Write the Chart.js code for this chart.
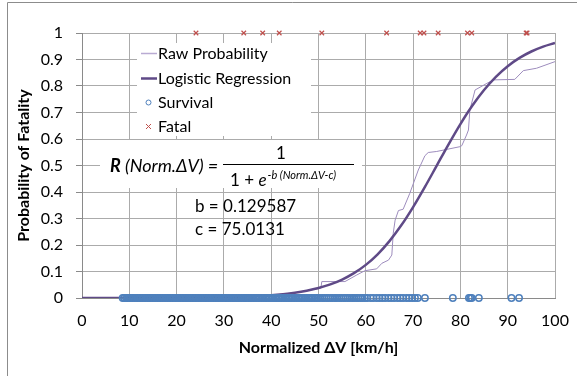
<!DOCTYPE html>
<html>
<head>
<meta charset="utf-8">
<script src="https://cdn.jsdelivr.net/npm/chart.js@4.4.1/dist/chart.umd.min.js"></script>
<style>
  body { margin: 0; background: #fff; }
  #wrap { width: 577px; height: 376px; position: relative; }
</style>
</head>
<body>
<div id="wrap"><canvas id="fatalityChart" width="577" height="376"></canvas></div>
<script>
// Raw probability (moving estimate)
var rawX = [40, 45, 50.5, 50.7, 55.6, 58.1, 59.8, 62.3, 63.4, 64.8, 65.5, 65.8, 66.2, 66.9, 67.9, 69.3, 71.1, 72.5, 73.2, 75, 79.9, 80.3, 81.3, 81.7, 82, 83.1, 85.6, 87, 91.5, 93.3, 96.1, 100];
var rawY = [0.010, 0.020, 0.037, 0.062, 0.062, 0.087, 0.103, 0.110, 0.131, 0.143, 0.162, 0.244, 0.294, 0.330, 0.335, 0.395, 0.483, 0.537, 0.549, 0.553, 0.571, 0.575, 0.615, 0.634, 0.709, 0.785, 0.810, 0.823, 0.825, 0.858, 0.867, 0.892];

// Logistic regression curve
var fitX = [0, 10, 20, 30, 35, 40, 42.5, 45, 47.5, 50, 52.5, 55, 57.5, 60, 62.5, 65, 67.5, 70, 72.5, 75, 77.5, 80, 82.5, 85, 87.5, 90, 92.5, 95, 97.5, 100];
var fitY = [0.0001, 0.0002, 0.0008, 0.0029, 0.0056, 0.0106, 0.0146, 0.0200, 0.0275, 0.0376, 0.0513, 0.0696, 0.0937, 0.1250, 0.1650, 0.2146, 0.2742, 0.3431, 0.4193, 0.4996, 0.5799, 0.6562, 0.7252, 0.7849, 0.8345, 0.8746, 0.9060, 0.9302, 0.9486, 0.9623];

// Survival cases (all at 0)
var survivalX = [8.6, 8.9, 9.3, 9.6, 10.0, 10.3, 10.7, 11.0, 11.4, 11.7, 12.1, 12.4, 12.8, 13.1, 13.5, 13.8, 14.2, 14.5, 14.9, 15.2,
  15.6, 15.9, 16.3, 16.6, 17.0, 17.3, 17.7, 18.0, 18.4, 18.7, 19.1, 19.4, 19.8, 20.1, 20.5, 20.8, 21.2, 21.5, 21.9, 22.2,
  22.6, 22.9, 23.3, 23.6, 24.0, 24.3, 24.7, 25.0, 25.4, 25.7, 26.1, 26.4, 26.8, 27.1, 27.5, 27.8, 28.2, 28.5, 28.9, 29.2,
  29.6, 29.9, 30.3, 30.6, 31.0, 31.3, 31.7, 32.0, 32.4, 32.7, 33.1, 33.4, 33.8, 34.1, 34.5, 34.8, 35.2, 35.5, 35.9, 36.2,
  36.6, 36.9, 37.3, 37.6, 38.0, 38.3, 38.7, 39.0, 39.4, 39.7, 40.1, 40.4, 40.8, 41.1, 41.5, 41.8, 42.2, 42.5, 42.9, 43.2,
  43.6, 43.9, 44.3, 44.6, 45.0, 45.3, 45.7, 46.0, 46.4, 46.7, 47.1, 47.4, 47.8, 48.1, 48.5, 48.8, 49.2, 49.5, 49.9,
  50.3, 50.8, 51.2, 51.7, 52.1, 52.6, 53.0, 53.5, 53.9, 54.4, 54.8, 55.3, 55.7, 56.2, 56.6, 57.1, 57.5, 58.0, 58.4, 58.9,
  59.3, 59.8, 60.3, 61.0, 61.6, 62.3, 62.9, 63.5, 64.1, 64.8, 65.4, 66.0, 66.7, 67.3, 67.9, 68.6, 69.2, 69.8, 70.4, 71.0,
  72.5, 78.4, 81.8, 82.1, 82.4, 83.9, 90.8, 92.4];

// Fatal cases (all at 1)
var fatalX = [24.1, 34.2, 38.2, 41.7, 50.7, 64.4, 71.5, 72.3, 75.3, 81.5, 82.4, 93.9, 94.1];

var xTicks = [0, 100, 10];
var yTicks = [0, 1, 0.1];

var colors = {
  raw: '#9d8cbd',
  rawLegend: '#b9abd3',
  fit: '#5f4a87',
  survival: '#4f81bd',
  fatal: '#c0504d',
  grid: '#ababab',
  axis: '#8a8a8a'
};

function pairs(xs, ys) {
  var out = [];
  for (var i = 0; i < xs.length; i++) out.push({ x: xs[i], y: ys[i] });
  return out;
}
function constPairs(xs, v) {
  var out = [];
  for (var i = 0; i < xs.length; i++) out.push({ x: xs[i], y: v });
  return out;
}

Chart.defaults.font.family = 'Lato, "Open Sans", sans-serif';
Chart.defaults.color = '#000';

// white boxes, legend and formula drawn on top of the grid
var overlay = {
  id: 'overlay',
  beforeDatasetsDraw: function(chart) {
    var ctx = chart.ctx;
    ctx.save();
    ctx.fillStyle = '#fff';
    ctx.fillRect(137, 43, 174, 93);
    ctx.fillRect(100, 140, 262, 48);

    // legend
    ctx.textBaseline = 'middle';
    ctx.textAlign = 'left';
    ctx.font = '16px Lato';
    ctx.fillStyle = '#000';
    ctx.strokeStyle = colors.rawLegend;
    ctx.lineWidth = 1.5;
    ctx.beginPath(); ctx.moveTo(141, 53.5); ctx.lineTo(157, 53.5); ctx.stroke();
    ctx.fillText('Raw Probability', 158, 54);
    ctx.strokeStyle = colors.fit;
    ctx.lineWidth = 2.5;
    ctx.beginPath(); ctx.moveTo(141, 78.5); ctx.lineTo(157, 78.5); ctx.stroke();
    ctx.fillText('Logistic Regression', 158, 79);
    ctx.strokeStyle = colors.survival;
    ctx.lineWidth = 1;
    ctx.beginPath(); ctx.arc(148.5, 102.5, 2.5, 0, Math.PI * 2); ctx.stroke();
    ctx.fillText('Survival', 158, 103);
    ctx.strokeStyle = colors.fatal;
    ctx.beginPath();
    ctx.moveTo(146, 124); ctx.lineTo(151, 129);
    ctx.moveTo(151, 124); ctx.lineTo(146, 129);
    ctx.stroke();
    ctx.fillText('Fatal', 158, 127);

    // formula
    ctx.font = 'italic bold 18px Lato';
    ctx.fillText('R', 110, 166);
    var w = ctx.measureText('R').width;
    ctx.font = 'italic 18px Lato';
    ctx.fillText(' (Norm.\u0394V) =', 110 + w, 166);
    ctx.fillRect(223, 164, 131, 1);
    ctx.font = '17px Lato';
    ctx.textAlign = 'center';
    ctx.fillText('1', 281, 154);
    ctx.textAlign = 'left';
    ctx.fillText('1 + ', 230, 181);
    var x2 = 230 + ctx.measureText('1 + ').width;
    ctx.font = 'italic 17px Lato';
    ctx.fillText('e', x2, 181);
    x2 += ctx.measureText('e').width;
    ctx.font = 'italic 11px Lato';
    ctx.fillText('-b (Norm.\u0394V-c)', x2 + 1, 175);

    ctx.font = '17px Lato';
    ctx.fillText('b = 0.129587', 195, 207);
    ctx.fillText('c = 75.0131', 195, 230);
    ctx.restore();
  },
  afterDraw: function(chart) {
    // outer chart frame (top and left edges visible)
    var ctx = chart.ctx;
    ctx.save();
    ctx.strokeStyle = '#8c8c8c';
    ctx.lineWidth = 1;
    ctx.beginPath();
    ctx.moveTo(7.5, 376); ctx.lineTo(7.5, 2.5); ctx.lineTo(577, 2.5);
    ctx.stroke();
    ctx.restore();
  }
};

var ctx = document.getElementById('fatalityChart').getContext('2d');
new Chart(ctx, {
  type: 'scatter',
  data: {
    datasets: [
      {
        label: 'Survival',
        data: constPairs(survivalX, 0),
        pointStyle: 'circle',
        pointRadius: 3.2,
        borderColor: colors.survival,
        backgroundColor: 'rgba(0,0,0,0)',
        borderWidth: 1.5,
        clip: false,
        order: 1
      },
      {
        label: 'Fatal',
        data: constPairs(fatalX, 1),
        pointStyle: 'crossRot',
        pointRadius: 3.2,
        borderColor: colors.fatal,
        borderWidth: 1.2,
        clip: false,
        order: 1
      },
      {
        label: 'Raw Probability',
        data: pairs(rawX, rawY),
        showLine: true,
        tension: 0,
        pointRadius: 0,
        borderColor: colors.raw,
        borderWidth: 1,
        order: 3
      },
      {
        label: 'Logistic Regression',
        data: pairs(fitX, fitY),
        showLine: true,
        cubicInterpolationMode: 'monotone',
        pointRadius: 0,
        borderColor: colors.fit,
        borderWidth: 2.5,
        order: 2
      }
    ]
  },
  options: {
    responsive: false,
    animation: false,
    events: [],
    layout: { padding: { left: 0, right: 22, top: 33, bottom: 0 } },
    plugins: {
      legend: { display: false },
      tooltip: { enabled: false }
    },
    scales: {
      x: {
        type: 'linear',
        min: xTicks[0],
        max: xTicks[1],
        afterFit: function(scale) { scale.height = 78; },
        ticks: { stepSize: xTicks[2], padding: 8, font: { size: 16 } },
        grid: { color: colors.grid, tickLength: 5, tickColor: 'rgba(0,0,0,0)' },
        border: { color: colors.axis },
        title: {
          display: true,
          text: 'Normalized \u0394V [km/h]',
          font: { size: 16, weight: 'bold' },
          padding: { top: 0, bottom: 19 }
        }
      },
      y: {
        min: yTicks[0],
        max: yTicks[1],
        afterFit: function(scale) { scale.width = 82; },
        ticks: {
          stepSize: yTicks[2],
          padding: 13,
          font: { size: 16 },
          callback: function(v) { return String(Math.round(v * 10) / 10); }
        },
        grid: { color: colors.grid, tickLength: 6, tickColor: colors.axis },
        border: { color: colors.axis },
        title: {
          display: true,
          text: 'Probability of Fatality',
          font: { size: 16, weight: 'bold' },
          padding: { top: 14, bottom: 0 }
        }
      }
    }
  },
  plugins: [overlay]
});
</script>
</body>
</html>
